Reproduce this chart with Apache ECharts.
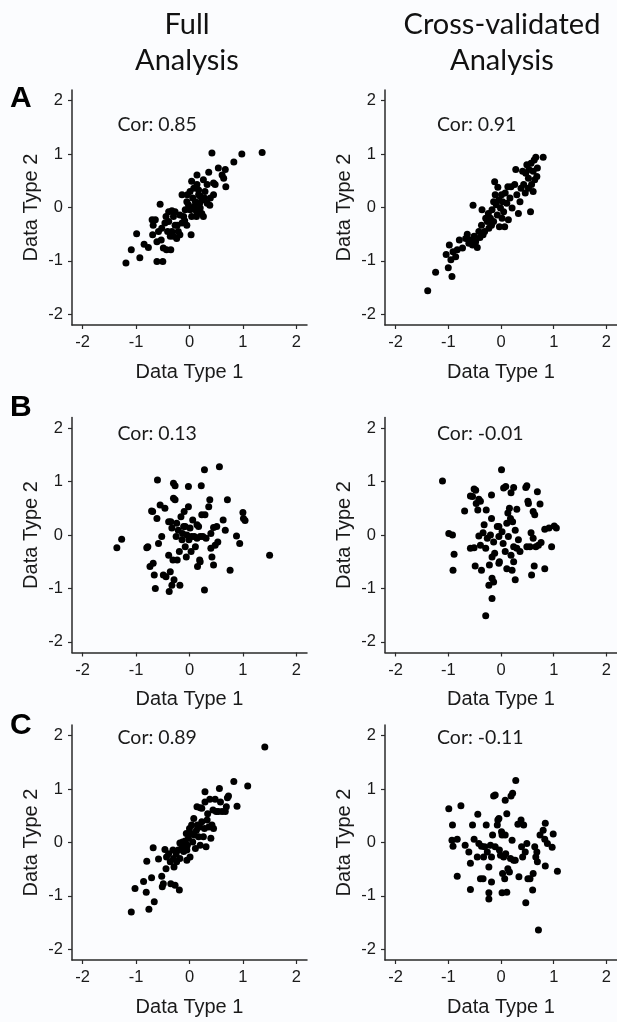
<!DOCTYPE html>
<html>
<head>
<meta charset="utf-8">
<script src="https://cdn.jsdelivr.net/npm/echarts@6/dist/echarts.min.js"></script>
<style>
  html, body { margin: 0; padding: 0; background: #fbfcfe; }
  #chart { width: 617px; height: 1022px; }
</style>
</head>
<body>
<div id="chart"></div>
<script>
// Column headings and row letters
const columnTitles = [['Full', 'Analysis'], ['Cross-validated', 'Analysis']];
const rowLetters = ['A', 'B', 'C'];
const xAxisName = 'Data Type 1';
const yAxisName = 'Data Type 2';
const tickValues = [-2, -1, 0, 1, 2];
const corFull = ['0.85', '0.13', '0.89'];
const corCross = ['0.91', '-0.01', '-0.11'];

// Row A, full analysis
const fullA = [
  [-1.19,-1.04],[-1.09,-0.79],[-0.99,-0.49],[-0.93,-0.94],[-0.85,-0.69],[-0.77,-0.75],
  [-0.70,-0.23],[-0.64,-0.23],[-0.61,-1.01],[-0.50,-1.01],[-0.55,0.06],[-0.69,-0.51],
  [-0.58,-0.45],[-0.52,-0.39],[-0.53,-0.61],[-0.49,-0.76],[-0.43,-0.79],[-0.35,-0.79],
  [-0.44,-0.17],[-0.39,-0.26],[-0.41,-0.45],[-0.36,-0.54],[-0.33,-0.06],[-0.27,-0.08],
  [-0.30,-0.54],[-0.24,-0.58],[-0.23,-0.33],[-0.14,0.24],[-0.18,-0.14],[-0.11,-0.17],
  [-0.14,-0.29],[-0.18,-0.51],[-0.05,-0.33],[-0.08,-0.04],[-0.05,0.11],[0.01,0.30],
  [0.04,0.49],[0.03,-0.51],[-0.02,0.05],[0.06,0.18],[0.11,0.11],[0.14,0.43],
  [0.14,0.61],[0.17,0.24],[0.19,0.08],[0.11,-0.04],[0.20,-0.01],[0.23,-0.11],
  [0.26,-0.17],[0.23,0.14],[0.29,0.30],[0.33,0.43],[0.26,0.52],[0.39,0.18],
  [0.38,0.04],[0.36,0.66],[0.42,1.02],[0.45,0.46],[0.48,0.43],[0.45,0.24],
  [0.54,0.74],[0.61,0.61],[0.64,0.55],[0.67,0.71],[0.68,0.39],[0.83,0.85],
  [0.98,1.00],[1.36,1.03],[-0.09,-0.25],[-0.21,-0.45],[-0.27,-0.33],[-0.30,-0.17],
  [-0.39,-0.08],[0.08,0.36],[0.17,0.33],[0.20,0.21],[0.09,0.02],[0.14,-0.08],
  [0.04,-0.17],[0.01,-0.04],[-0.04,0.24],[0.28,0.18],[0.33,0.08],[0.13,-0.17],
  [-0.68,-0.33],[-0.61,-0.64],[-0.46,-0.29],[-0.33,-0.45]
];

// Row A, cross-validated analysis
const crossA = [
  [-1.39,-1.56],[-1.24,-1.21],[-1.00,-1.13],[-0.93,-1.29],[-1.04,-0.88],[-0.98,-0.70],
  [-0.95,-0.98],[-0.91,-0.83],[-0.86,-0.92],[-0.83,-0.79],[-0.79,-0.61],[-0.73,-0.76],
  [-0.67,-0.58],[-0.64,-0.50],[-0.61,-0.67],[-0.58,-0.61],[-0.54,-0.70],[-0.53,0.04],
  [-0.51,-0.54],[-0.48,-0.64],[-0.45,-0.75],[-0.42,-0.45],[-0.40,-0.56],[-0.37,-0.33],
  [-0.36,-0.04],[-0.34,-0.51],[-0.31,-0.45],[-0.29,-0.20],[-0.26,-0.26],[-0.24,-0.11],
  [-0.23,-0.39],[-0.20,-0.20],[-0.18,-0.33],[-0.17,-0.04],[-0.14,0.11],[-0.14,-0.26],
  [-0.12,0.48],[-0.11,0.24],[-0.09,0.05],[-0.07,-0.14],[-0.06,0.38],[-0.04,0.14],
  [-0.03,-0.36],[-0.01,-0.01],[0.01,0.24],[0.02,-0.20],[0.03,0.11],[0.05,-0.08],
  [0.07,-0.36],[0.08,0.27],[0.11,0.08],[0.13,0.39],[0.14,-0.23],[0.17,0.18],
  [0.19,0.39],[0.21,-0.01],[0.26,0.43],[0.28,0.71],[0.30,0.24],[0.33,-0.11],
  [0.36,0.11],[0.38,0.36],[0.41,0.68],[0.43,0.43],[0.46,0.27],[0.47,0.64],
  [0.49,0.80],[0.52,0.55],[0.53,0.71],[0.56,-0.08],[0.57,0.83],[0.58,0.43],
  [0.61,0.68],[0.63,0.89],[0.64,0.52],[0.66,0.94],[0.68,0.58],[0.69,0.74],
  [0.80,0.94],[0.52,0.36],[0.61,0.30]
];

// Row B, full analysis
const fullB = [
  [-1.36,-0.24],[-1.27,-0.08],[-0.80,-0.24],[-0.74,-0.59],[-0.69,0.44],[-0.68,-0.53],
  [-0.66,-0.75],[-0.64,-1.00],[-0.61,0.31],[-0.60,1.03],[-0.58,-0.16],[-0.55,0.56],
  [-0.52,-0.03],[-0.49,-0.75],[-0.46,0.50],[-0.44,-0.78],[-0.39,-0.38],[-0.38,-1.06],
  [-0.36,-0.69],[-0.35,0.25],[-0.33,0.13],[-0.33,-0.94],[-0.31,-0.47],[-0.30,0.97],
  [-0.29,-0.84],[-0.27,0.92],[-0.27,0.66],[-0.25,-0.03],[-0.24,0.22],[-0.23,-0.47],
  [-0.21,0.09],[-0.19,-0.31],[-0.18,-0.94],[-0.16,0.34],[-0.14,-0.09],[-0.11,0.16],
  [-0.10,0.44],[-0.08,-0.22],[-0.06,-0.41],[-0.05,0.00],[-0.02,0.91],[-0.02,0.53],
  [-0.01,-0.09],[0.01,0.13],[0.03,-0.31],[0.06,0.28],[0.09,-0.03],[0.11,-0.22],
  [0.14,0.19],[0.15,-0.59],[0.17,0.16],[0.19,-0.47],[0.20,-0.03],[0.20,-0.50],
  [0.22,0.92],[0.23,0.38],[0.25,-0.03],[0.28,1.22],[0.28,-1.03],[0.29,0.38],
  [0.31,-0.06],[0.36,0.53],[0.38,0.66],[0.40,0.03],[0.40,-0.25],[0.42,-0.41],
  [0.45,-0.56],[0.45,0.14],[0.48,-0.19],[0.51,0.16],[0.53,-0.13],[0.56,1.28],
  [0.63,0.28],[0.67,0.09],[0.71,0.66],[0.76,-0.66],[0.88,-0.02],[0.94,-0.16],
  [1.00,0.42],[1.01,0.31],[1.04,0.27],[1.50,-0.38],[-0.78,-0.22],[-0.71,0.45],
  [-0.39,0.25],[-0.30,0.69],[-0.13,0.03],[0.04,-0.03],[0.14,-0.06],[-0.08,0.16]
];

// Row B, cross-validated analysis
const crossB = [
  [-1.11,1.01],[-0.99,0.03],[-0.92,0.00],[-0.89,-0.36],[-0.91,-0.66],[-0.69,0.45],
  [-0.58,0.73],[-0.54,0.72],[-0.51,0.86],[-0.48,0.84],[-0.51,-0.24],[-0.49,-0.58],
  [-0.47,0.59],[-0.44,0.47],[-0.42,0.67],[-0.39,0.63],[-0.42,-0.02],[-0.39,-0.19],
  [-0.37,-0.66],[-0.34,0.04],[-0.32,0.19],[-0.29,-0.25],[-0.28,0.47],[-0.26,-0.06],
  [-0.23,-0.94],[-0.22,-0.56],[-0.20,0.00],[-0.18,0.75],[-0.18,0.31],[-0.17,-0.41],
  [-0.17,-0.81],[-0.17,-1.19],[-0.14,-0.13],[-0.12,-0.34],[-0.29,-1.51],[-0.07,0.16],
  [-0.04,-0.53],[-0.04,-0.03],[-0.03,-0.50],[0.01,1.22],[0.02,0.06],[0.04,-0.16],
  [0.05,0.88],[0.08,-0.31],[0.09,0.91],[0.11,0.22],[0.11,-0.63],[0.13,0.41],
  [0.14,-0.03],[0.16,0.50],[0.18,0.31],[0.19,-0.38],[0.19,0.79],[0.21,-0.66],
  [0.22,0.25],[0.24,0.89],[0.24,-0.22],[0.24,-0.50],[0.27,0.09],[0.27,-0.84],
  [0.30,0.48],[0.30,-0.25],[0.33,-0.09],[0.36,-0.31],[0.47,0.89],[0.49,0.92],
  [0.51,0.63],[0.49,-0.22],[0.52,0.59],[0.55,-0.22],[0.57,0.04],[0.58,-0.75],
  [0.61,0.44],[0.61,-0.06],[0.63,-0.58],[0.64,0.38],[0.66,-0.22],[0.69,0.81],
  [0.71,-0.19],[0.74,0.58],[0.76,-0.14],[0.83,0.11],[0.83,-0.63],[0.91,0.13],
  [0.96,-0.22],[1.01,0.17],[1.05,0.13],[-0.58,-0.25],[-0.04,0.16],[-0.14,-0.88]
];

// Row C, full analysis
const fullC = [
  [-1.09,-1.30],[-1.02,-0.86],[-0.86,-0.73],[-0.81,-0.93],[-0.80,-0.35],[-0.76,-1.25],
  [-0.66,-1.11],[-0.71,-0.66],[-0.68,-0.10],[-0.58,-0.31],[-0.52,-0.63],[-0.51,-0.83],
  [-0.49,-0.77],[-0.46,-0.13],[-0.43,-0.27],[-0.44,-0.49],[-0.39,-0.21],[-0.36,-0.36],
  [-0.35,-0.77],[-0.31,-0.14],[-0.30,-0.30],[-0.29,-0.46],[-0.27,-0.80],[-0.25,-0.21],
  [-0.24,-0.36],[-0.21,-0.14],[-0.19,-0.89],[-0.18,-0.01],[-0.18,-0.30],[-0.14,-0.08],
  [-0.11,-0.17],[-0.08,0.03],[-0.06,0.17],[-0.05,-0.33],[-0.04,-0.05],[-0.02,0.08],
  [0.00,0.26],[0.01,-0.27],[0.03,0.17],[0.04,0.33],[0.06,0.01],[0.08,0.45],
  [0.09,0.14],[0.11,-0.11],[0.13,0.23],[0.14,0.67],[0.15,0.33],[0.17,0.11],
  [0.19,0.29],[0.20,-0.05],[0.23,0.64],[0.23,0.39],[0.26,0.11],[0.28,0.26],
  [0.29,0.95],[0.29,0.76],[0.31,-0.08],[0.33,0.42],[0.34,0.54],[0.36,0.29],
  [0.38,0.81],[0.40,0.08],[0.42,0.33],[0.44,0.61],[0.45,0.26],[0.48,0.81],
  [0.50,0.58],[0.54,0.58],[0.56,1.01],[0.58,0.76],[0.61,0.58],[0.67,0.58],
  [0.69,0.67],[0.71,0.84],[0.73,0.87],[0.83,1.14],[0.89,0.68],[1.09,1.06],
  [1.41,1.79],[-0.05,-0.14],[-0.13,0.01],[0.20,0.65]
];

// Row C, cross-validated analysis
const crossC = [
  [-0.99,0.63],[-0.92,0.33],[-0.93,0.04],[-0.91,-0.07],[-0.83,0.06],[-0.83,-0.63],
  [-0.76,0.69],[-0.68,-0.05],[-0.61,-0.18],[-0.58,-0.88],[-0.58,-0.39],[-0.54,0.33],
  [-0.51,0.06],[-0.45,-0.27],[-0.44,0.53],[-0.42,-0.02],[-0.39,-0.68],[-0.37,-0.07],
  [-0.34,-0.68],[-0.33,-0.27],[-0.31,-0.08],[-0.28,0.33],[-0.26,-0.18],[-0.23,-0.46],
  [-0.23,-0.94],[-0.23,-1.06],[-0.20,-0.05],[-0.18,-0.27],[-0.18,-0.74],[-0.16,0.14],
  [-0.14,0.87],[-0.11,0.89],[-0.11,-0.08],[-0.07,0.33],[-0.06,0.42],[-0.04,0.45],
  [-0.03,-0.14],[-0.01,-0.24],[0.01,0.20],[0.02,0.14],[0.02,-0.94],[0.03,-0.58],
  [0.05,-0.27],[0.07,-0.68],[0.08,0.79],[0.08,0.14],[0.09,-0.21],[0.11,-0.93],
  [0.11,0.54],[0.13,-0.49],[0.16,-0.55],[0.18,-0.30],[0.19,0.87],[0.21,0.04],
  [0.22,0.92],[0.24,-0.33],[0.27,-0.33],[0.28,1.16],[0.32,0.34],[0.34,-0.64],
  [0.38,0.42],[0.39,-0.08],[0.41,-0.27],[0.43,0.33],[0.46,-0.18],[0.47,-1.13],
  [0.49,-0.02],[0.51,-0.68],[0.55,-0.68],[0.60,-0.89],[0.61,-0.58],[0.64,-0.08],
  [0.66,-0.27],[0.68,-0.18],[0.69,-0.36],[0.71,-1.64],[0.74,0.14],[0.80,0.23],
  [0.83,0.06],[0.84,0.36],[0.84,-0.44],[0.88,-0.02],[0.97,-0.09],[0.99,0.16],
  [1.07,-0.54]
];

const panels = [
  [fullA, crossA],
  [fullB, crossB],
  [fullC, crossC]
];
const corLabels = [corFull, corCross];

// Layout of the 3 x 2 panel grid (pixels)
const colLeft = [72, 385];
const colCenter = [187, 502];
const rowTop = [90, 417.5, 725];
const plotSize = 235;
const corLeft = [117.5, 437];
const corTop = [115, 424, 728];
const letterTop = [84, 393, 711];

const textColor = '#1a1a1a';
const axisColor = '#2a2a2a';

const grids = [], xAxes = [], yAxes = [], series = [], graphics = [];

panels.forEach((row, r) => {
  row.forEach((data, c) => {
    const idx = grids.length;
    grids.push({ left: colLeft[c], top: rowTop[r], width: plotSize, height: plotSize, containLabel: false });
    const axisCommon = {
      type: 'value', min: -2.2, max: 2.2, gridIndex: idx,
      splitLine: { show: false },
      axisLine: { show: true, onZero: false, lineStyle: { color: axisColor, width: 1.5 } },
      axisTick: { show: true, inside: false, length: 4, customValues: tickValues, lineStyle: { color: axisColor, width: 1.2 } },
      axisLabel: { customValues: tickValues, color: textColor, fontFamily: 'Liberation Sans, Arial', fontSize: 16.5, margin: 9 },
      nameLocation: 'middle',
      nameTextStyle: { color: textColor, fontFamily: 'Liberation Sans, Arial', fontSize: 20 }
    };
    xAxes.push(Object.assign({}, axisCommon, { name: xAxisName, nameGap: 37, position: 'bottom' }));
    yAxes.push(Object.assign({}, axisCommon, { name: yAxisName, nameGap: 31, position: 'left' }));
    series.push({
      type: 'scatter', xAxisIndex: idx, yAxisIndex: idx, data: data,
      symbolSize: 7, itemStyle: { color: '#000', opacity: 1 }, silent: true, animation: false
    });
    graphics.push({
      type: 'text', left: corLeft[c], top: corTop[r],
      style: { text: 'Cor: ' + corLabels[c][r], font: '19.5px Lato', fill: textColor }
    });
  });
  graphics.push({
    type: 'text', left: 10, top: letterTop[r],
    style: { text: rowLetters[r], font: 'bold 30px "Liberation Sans", Arial', fill: '#000' }
  });
});

// Column headings, two lines centred over each column
columnTitles.forEach((lines, c) => {
  lines.forEach((line, i) => {
    graphics.push({
      type: 'text', x: colCenter[c], y: 39 + i * 36,
      style: { text: line, font: '29px Lato', fill: '#111', align: 'center', verticalAlign: 'bottom' }
    });
  });
});

const chart = echarts.init(document.getElementById('chart'), null, { renderer: 'canvas' });
chart.setOption({
  backgroundColor: '#fbfcfe',
  animation: false,
  grid: grids,
  xAxis: xAxes,
  yAxis: yAxes,
  series: series,
  graphic: graphics
});
</script>
</body>
</html>
